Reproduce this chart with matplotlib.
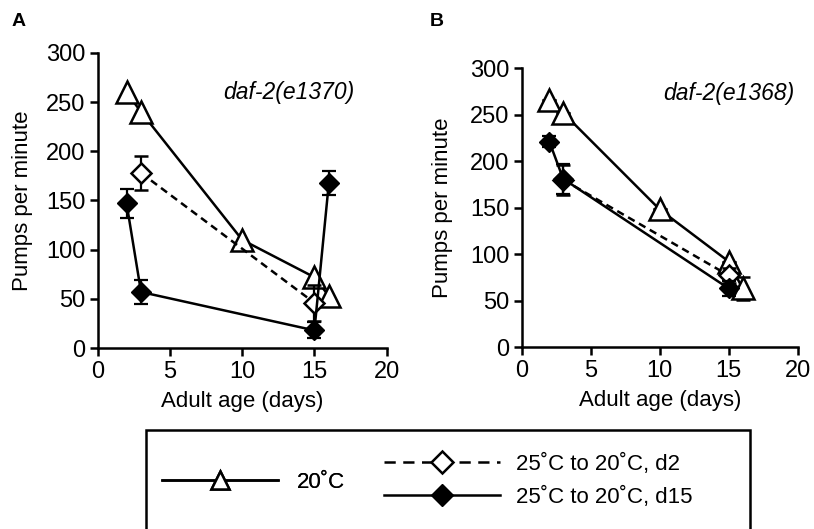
import matplotlib
matplotlib.use('Agg')
import matplotlib.pyplot as plt
from matplotlib.lines import Line2D
from matplotlib.patches import Rectangle

plt.rcParams['font.family'] = ['Liberation Sans', 'DejaVu Sans']

# Panel A: daf-2(e1370)
a_days_20 = [2, 3, 10, 15, 16]
a_pump_20 = [260, 240, 110, 72, 53]
a_days_d2 = [3, 15]
a_pump_d2 = [178, 46]
a_err_d2 = [17, 18]
a_days_d15 = [2, 3, 15, 16]
a_pump_d15 = [147, 57, 18, 168]
a_err_d15 = [15, 12, 8, 12]

# Panel B: daf-2(e1368)
b_days_20 = [2, 3, 10, 15, 16]
b_pump_20 = [266, 252, 148, 92, 63]
b_err_20 = [0, 0, 0, 0, 12]
b_days_d2 = [3, 15]
b_pump_d2 = [180, 77]
b_err_d2 = [16, 8]
b_days_d15 = [2, 3, 15]
b_pump_d15 = [221, 181, 63]
b_err_d15 = [6, 16, 8]

strains = ['daf-2(e1370)', 'daf-2(e1368)']
panel_labels = ['A', 'B']
legend_labels = ['20˚C', '25˚C to 20˚C, d2', '25˚C to 20˚C, d15']

fig = plt.figure(figsize=(8.14, 5.29), dpi=100)
ax_a = fig.add_axes([0.120, 0.342, 0.355, 0.558])
ax_b = fig.add_axes([0.641, 0.344, 0.339, 0.527])

lw = 1.8
tri_style = dict(color='black', lw=lw, marker='^', ms=16, mfc='white', mec='black', mew=1.8)
d2_style = dict(color='black', lw=lw, ls=(0, (3, 2)), marker='D', ms=10, mfc='white', mec='black', mew=1.8)
d15_style = dict(color='black', lw=lw, marker='D', ms=10, mfc='black', mec='black')
err_style = dict(ecolor='black', elinewidth=1.6, capsize=5, capthick=1.6)


def draw_panel(ax, d20, p20, e20, dd2, pd2, ed2, dd15, pd15, ed15, strain, xtxt, ytxt, ylpad):
    ax.errorbar(d20, p20, yerr=e20, zorder=2, **tri_style, **err_style)
    ax.errorbar(dd2, pd2, yerr=ed2, zorder=3, **d2_style, **err_style)
    ax.errorbar(dd15, pd15, yerr=ed15, zorder=4, **d15_style, **err_style)
    ax.set_xlim(0, 20)
    ax.set_ylim(0, 300)
    ax.set_xticks([0, 5, 10, 15, 20])
    ax.set_yticks(range(0, 301, 50))
    for s in ['top', 'right']:
        ax.spines[s].set_visible(False)
    for s in ['left', 'bottom']:
        ax.spines[s].set_linewidth(1.8)
    ax.tick_params(direction='out', length=6, width=1.8, labelsize=17, pad=3)
    ax.set_xlabel('Adult age (days)', fontsize=16, labelpad=6)
    ax.set_ylabel('Pumps per minute', fontsize=16, labelpad=ylpad)
    ax.text(xtxt, ytxt, strain, transform=ax.transAxes, ha='right', va='center',
            fontsize=16.5, style='italic')


draw_panel(ax_a, a_days_20, a_pump_20, None, a_days_d2, a_pump_d2, a_err_d2,
           a_days_d15, a_pump_d15, a_err_d15, strains[0], 0.89, 0.865, 9)
draw_panel(ax_b, b_days_20, b_pump_20, b_err_20, b_days_d2, b_pump_d2, b_err_d2,
           b_days_d15, b_pump_d15, b_err_d15, strains[1], 0.99, 0.91, 12)

fig.text(12 / 814, 1 - 21 / 529, panel_labels[0], fontsize=14, fontweight='bold', va='center')
fig.text(430 / 814, 1 - 21 / 529, panel_labels[1], fontsize=14, fontweight='bold', va='center')

# legend box
fig.patches.append(Rectangle((146 / 814, -0.05), (750 - 146) / 814, 0.05 + 1 - 430 / 529,
                             transform=fig.transFigure, fill=False, lw=1.8, ec='black'))

h20 = Line2D([], [], color='black', lw=lw, marker='^', ms=13, mfc='white', mec='black', mew=1.8)
hd2 = Line2D([], [], color='black', lw=lw, ls=(0, (4.5, 3)), marker='D', ms=11, mfc='white', mec='black', mew=1.8)
hd15 = Line2D([], [], color='black', lw=lw, marker='D', ms=11, mfc='black', mec='black')

leg1 = fig.legend([h20], [legend_labels[0]], loc='center left', frameon=False,
                  bbox_to_anchor=(162 / 814, 1 - 482 / 529), fontsize=16,
                  handlelength=5.2, handletextpad=0.85, borderpad=0, borderaxespad=0)
fig.add_artist(leg1)
fig.legend([hd2, hd15], legend_labels[1:], loc='center left', frameon=False,
           bbox_to_anchor=(384 / 814, 1 - 481 / 529), fontsize=16,
           handlelength=5.2, handletextpad=0.75, labelspacing=0.55, borderpad=0, borderaxespad=0)

fig.savefig('out.png', dpi=100)
